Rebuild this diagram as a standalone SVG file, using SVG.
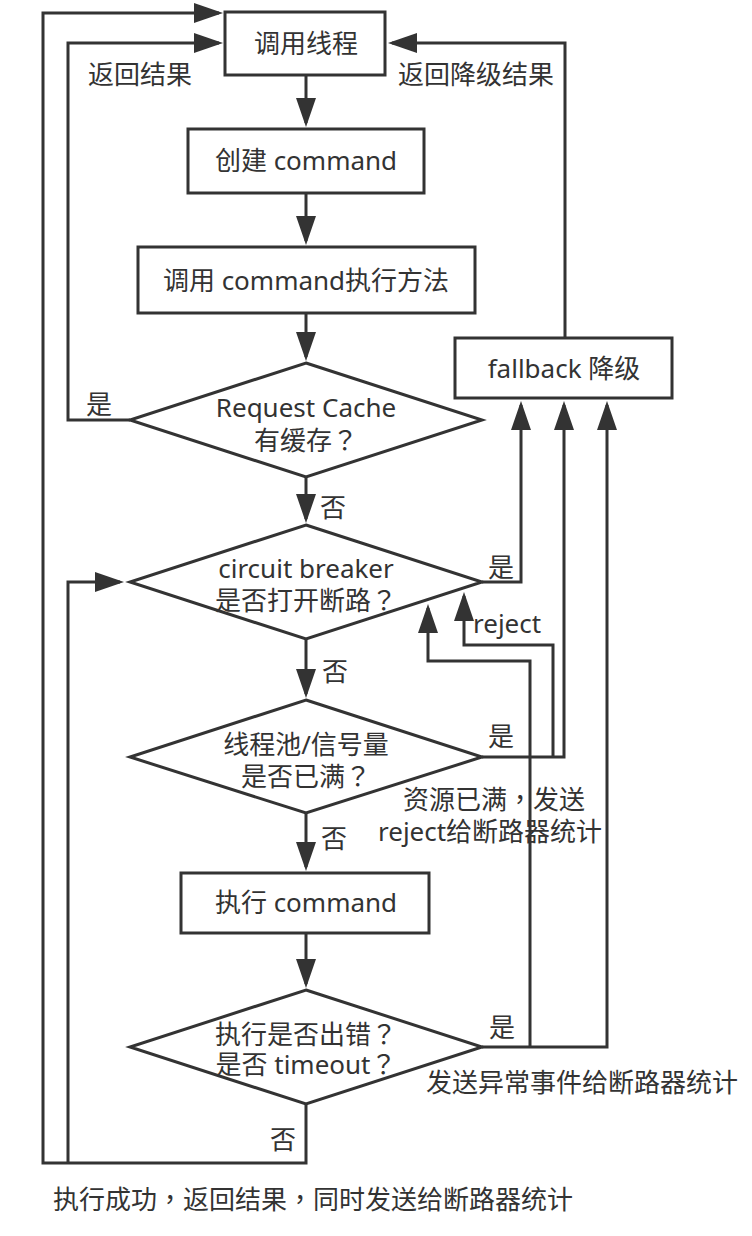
<svg xmlns="http://www.w3.org/2000/svg" width="752" height="1236" viewBox="0 0 752 1236">
<style>
.shape{fill:#fff;stroke:#333;stroke-width:3}
.c{fill:none;stroke:#333;stroke-width:3}
.a{marker-end:url(#arr)}
text{font-family:"Noto Sans","Noto Sans CJK SC",sans-serif;font-size:26px;fill:#333}
.m{text-anchor:middle}
.p{font-family:"Noto Sans CJK TC","Noto Sans CJK SC",sans-serif}
</style>
<defs>
<marker id="arr" markerUnits="userSpaceOnUse" markerWidth="29" markerHeight="20" refX="25" refY="10" orient="auto">
<path d="M0,0 L29,10 L0,20 z" fill="#333"/>
</marker>
</defs>
<rect width="752" height="1236" fill="#fff"/>
<g id="connectors">
<path class="c a" d="M306,75 V123"/>
<path class="c a" d="M306,193 V241"/>
<path class="c a" d="M306,313 V357"/>
<path class="c a" d="M306,477 V519"/>
<path class="c a" d="M306,639 V694"/>
<path class="c a" d="M306,813 V867"/>
<path class="c a" d="M306,933 V984"/>
<path class="c a" d="M130,420 H68 V43 H219"/>
<path class="c a" d="M306,1104 V1163 H43 V13 H219"/>
<path class="c a" d="M68,1163 V582 H120"/>
<path class="c a" d="M482,582 H521 V405"/>
<path class="c a" d="M482,757 H564 V405"/>
<path class="c a" d="M482,1047 H607 V405"/>
<path class="c a" d="M553,757 V645 H464 V596"/>
<path class="c a" d="M530,1047 V661 H428 V608"/>
<path class="c a" d="M565,338 V43 H392"/>
</g>
<g id="labels">
<text x="88" y="84">返回结果</text>
<text x="398" y="84">返回降级结果</text>
<text x="86" y="414">是</text>
<text x="320" y="517">否</text>
<text x="488" y="577">是</text>
<text x="473" y="633">reject</text>
<text x="322" y="681">否</text>
<text x="488" y="746">是</text>
<text x="403" y="809">资源已满<tspan class="p">，</tspan>发送</text>
<text x="378" y="841">reject给断路器统计</text>
<text x="321" y="848">否</text>
<text x="489" y="1037">是</text>
<text x="426" y="1092">发送异常事件给断路器统计</text>
<text x="270" y="1149">否</text>
<text x="53" y="1209">执行成功<tspan class="p">，</tspan>返回结果<tspan class="p">，</tspan>同时发送给断路器统计</text>
</g>
<g id="n-call-thread">
<rect class="shape" x="225" y="12" width="160" height="63"/>
<text class="m" x="306" y="53">调用线程</text>
</g>
<g id="n-create-command">
<rect class="shape" x="188" y="129" width="236" height="64"/>
<text class="m" x="306" y="170">创建 command</text>
</g>
<g id="n-invoke-command">
<rect class="shape" x="138" y="247" width="337" height="66"/>
<text class="m" x="306" y="290">调用 command执行方法</text>
</g>
<g id="n-request-cache">
<polygon class="shape" points="306,363 482,420 306,477 130,420"/>
<text class="m" x="306" y="417">Request Cache</text>
<text class="m" x="306" y="450">有缓存<tspan class="p">？</tspan></text>
</g>
<g id="n-circuit-breaker">
<polygon class="shape" points="306,525 482,582 306,639 130,582"/>
<text class="m" x="306" y="578">circuit breaker</text>
<text class="m" x="306" y="610">是否打开断路<tspan class="p">？</tspan></text>
</g>
<g id="n-pool">
<polygon class="shape" points="306,700 482,757 306,813 130,757"/>
<text class="m" x="306" y="754">线程池/信号量</text>
<text class="m" x="306" y="786">是否已满<tspan class="p">？</tspan></text>
</g>
<g id="n-exec-command">
<rect class="shape" x="181" y="873" width="248" height="60"/>
<text class="m" x="306" y="912">执行 command</text>
</g>
<g id="n-exec-error">
<polygon class="shape" points="306,990 482,1047 306,1104 130,1047"/>
<text class="m" x="306" y="1044">执行是否出错<tspan class="p">？</tspan></text>
<text class="m" x="306" y="1074">是否 timeout<tspan class="p">？</tspan></text>
</g>
<g id="n-fallback">
<rect class="shape" x="455" y="338" width="217" height="60"/>
<text class="m" x="564" y="378">fallback 降级</text>
</g>
</svg>
